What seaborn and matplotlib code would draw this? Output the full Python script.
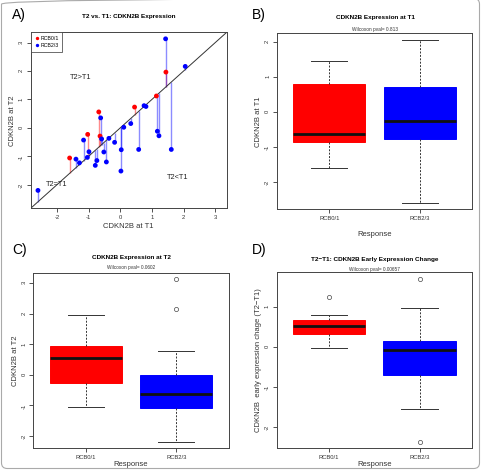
import numpy as np
import pandas as pd
import seaborn as sns
import matplotlib.pyplot as plt
from matplotlib.patches import FancyBboxPatch

# CDKN2B expression, paired samples (T1 = baseline, T2 = early on-treatment)
groups = ["RCB0/1", "RCB2/3"]
colors = ["#FF0000", "#0000FF"]

t1_rcb01 = [-1.60, -1.03, -0.68, -0.64, 0.45, 1.14, 1.44]
t2_rcb01 = [-1.06, -0.23, 0.56, -0.29, 0.73, 1.12, 1.96]

t1_rcb23 = [-2.60, -1.40, -1.29, -1.16, -1.04, -0.99, -0.79, -0.74, -0.62,
            -0.59, -0.52, -0.44, -0.36, -0.18, 0.03, 0.02, 0.11, 0.33, 0.58,
            0.75, 0.81, 1.17, 1.22, 1.43, 1.61, 2.05]
t2_rcb23 = [-2.20, -1.10, -1.23, -0.43, -1.04, -0.84, -1.32, -1.15, 0.35,
            -0.39, -0.85, -1.20, -0.37, -0.51, -0.77, -1.52, 0.02, 0.15, -0.76,
            0.78, 0.75, -0.12, -0.28, 3.13, -0.76, 2.16]

pvals = ["0.813", "0.0602", "0.00657"]

df = pd.DataFrame({
    "Response": [groups[0]] * len(t1_rcb01) + [groups[1]] * len(t1_rcb23),
    "T1": t1_rcb01 + t1_rcb23,
    "T2": t2_rcb01 + t2_rcb23,
})
df["Change"] = df["T2"] - df["T1"]

plt.rcParams["font.family"] = ["Liberation Sans", "DejaVu Sans"]
plt.rcParams["axes.unicode_minus"] = False

W, H = 483, 470
fig = plt.figure(figsize=(W / 100, H / 100), dpi=100)


def px(x, y):
    return x / W, 1 - y / H


def make_ax(l, t, r, b):
    ax = fig.add_axes([l / W, 1 - b / H, (r - l) / W, (b - t) / H])
    for s in ax.spines.values():
        s.set_color("#444444")
        s.set_linewidth(0.7)
    ax.tick_params(length=3, width=0.6, pad=2, labelsize=4.2, colors="#333333")
    ax.tick_params(axis="y", labelrotation=90)
    return ax


def padded(vals):
    lo, hi = min(vals), max(vals)
    d = (hi - lo) * 0.04
    return lo - d, hi + d


# outer frame
fig.patches.append(FancyBboxPatch((1.5 / W, 1.5 / H), 478 / W, 470 / H,
                                  boxstyle="round,pad=0,rounding_size=0.012",
                                  transform=fig.transFigure, fill=False,
                                  edgecolor="#aaaaaa", linewidth=0.8))

# ---- A) scatter T2 vs T1
axA = make_ax(30.7, 32.3, 226.7, 208.3)
for g, c in zip(groups, colors):
    sub = df[df["Response"] == g]
    axA.vlines(sub["T1"], sub["T1"], sub["T2"], colors=c, alpha=0.45, linewidth=1.0)
sns.scatterplot(data=df, x="T1", y="T2", hue="Response", palette=colors,
                s=12, edgecolor="none", ax=axA, zorder=3)
axA.axline((0, 0), slope=1, color="#333333", linewidth=0.7)
lim = padded(list(df["T1"]) + list(df["T2"]))
axA.set_xlim(lim)
axA.set_ylim(lim)
axA.set_xticks(range(-2, 4))
axA.set_yticks(range(-2, 4))
axA.set_xlabel("CDKN2B at T1", fontsize=5.5, labelpad=2, color="#333333")
axA.set_ylabel("CDKN2B at T2", fontsize=5.5, labelpad=2, color="#333333")
axA.legend(loc="upper left", borderaxespad=0, fancybox=False, edgecolor="#333333",
           fontsize=3.8, handletextpad=0.3, borderpad=0.7, labelspacing=0.35,
           handlelength=0.8, markerscale=0.7, framealpha=1)
axA.legend_.get_frame().set_linewidth(0.5)
axA.text(-1.25, 1.78, "T2>T1", fontsize=5.3, ha="center", va="center", color="#222222")
axA.text(1.8, -1.73, "T2<T1", fontsize=5.3, ha="center", va="center", color="#222222")
axA.text(-2.0, -2.0, "T2=T1", fontsize=5.3, ha="center", va="center", color="#222222")


# ---- boxplots
def box_panel(l, t, r, b, col, ylabel, ticks, xlabel_pad):
    ax = make_ax(l, t, r, b)
    sns.boxplot(data=df, x="Response", y=col, hue="Response", palette=colors,
                saturation=1, width=0.8, linecolor="#333333", linewidth=0.7,
                whiskerprops={"linestyle": (0, (2, 1.5))},
                medianprops={"linewidth": 2, "color": "#111111"},
                flierprops={"marker": "o", "markersize": 3, "markerfacecolor": "none",
                            "markeredgecolor": "#444444", "markeredgewidth": 0.5},
                legend=False, ax=ax)
    for p in ax.patches:
        p.set_edgecolor(p.get_facecolor())
    ax.set_xlim(-0.58, 1.58)
    ax.set_ylim(padded(df[col]))
    ax.set_yticks(ticks)
    ax.set_xlabel("Response", fontsize=5.5, labelpad=xlabel_pad, color="#333333")
    ax.set_ylabel(ylabel, fontsize=5.5, labelpad=2, color="#333333")
    return ax


box_panel(277, 33.3, 472, 209.3, "T1", "CDKN2B at T1", range(-2, 3), 7)
box_panel(33.3, 272.7, 228.7, 448.3, "T2", "CDKN2B at T2", range(-2, 4), 0.5)
box_panel(276.7, 272.3, 472, 448.3, "Change",
          "CDKN2B  early expression chage (T2\u2212T1)", range(-2, 2), 0.5)

# titles, subtitles and panel letters
fig.text(*px(128.7, 16.7), "T2 vs. T1: CDKN2B Expression", fontsize=4.6,
         fontweight="bold", ha="center", va="center")
fig.text(*px(376, 17.3), "CDKN2B Expression at T1", fontsize=4.6,
         fontweight="bold", ha="center", va="center")
fig.text(*px(131, 257.3), "CDKN2B Expression at T2", fontsize=4.6,
         fontweight="bold", ha="center", va="center")
fig.text(*px(375, 259), "T2\u2212T1: CDKN2B Early Expression Change", fontsize=4.6,
         fontweight="bold", ha="center", va="center")
for (x, y), p in zip([(375, 30), (131, 267.3), (374, 269)], pvals):
    fig.text(*px(x, y), "Wilcoxon pval= " + p, fontsize=3.4, ha="center",
             va="center", color="#333333")
for (x, y), s in zip([(12, 15), (252, 15), (12, 250), (252, 250)], ["A)", "B)", "C)", "D)"]):
    fig.text(*px(x, y), s, fontsize=10, ha="left", va="center")

fig.savefig("out.png", dpi=100)
